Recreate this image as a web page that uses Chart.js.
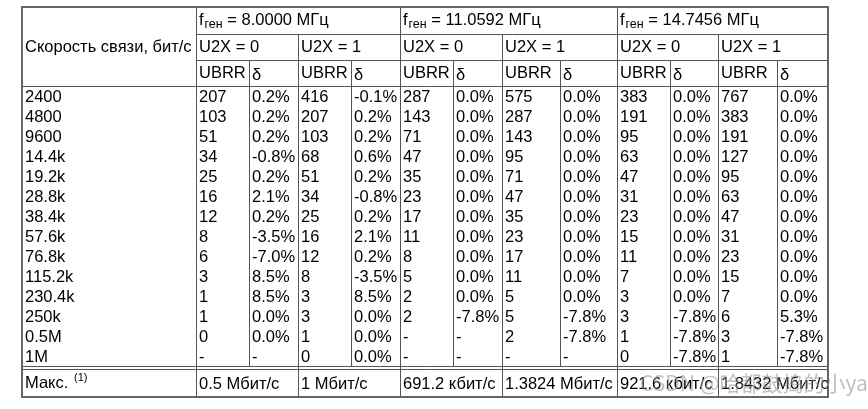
<!DOCTYPE html>
<html>
<head>
<meta charset="utf-8">
<script src="https://cdn.jsdelivr.net/npm/chart.js@4"></script>
<style>
  html, body { margin: 0; padding: 0; background: #fff; }
  #wrap { width: 868px; height: 409px; }
</style>
</head>
<body>
<div id="wrap"><canvas id="tbl"></canvas></div>
<script>
// Table data
const rates = ['2400', '4800', '9600', '14.4k', '19.2k', '28.8k', '38.4k', '57.6k', '76.8k', '115.2k', '230.4k', '250k', '0.5M', '1M'];
const freqs = ['8.0000 МГц', '11.0592 МГц', '14.7456 МГц'];
const ubrr8u0 = ['207', '103', '51', '34', '25', '16', '12', '8', '6', '3', '1', '1', '0', '-'];
const err8u0 = ['0.2%', '0.2%', '0.2%', '-0.8%', '0.2%', '2.1%', '0.2%', '-3.5%', '-7.0%', '8.5%', '8.5%', '0.0%', '0.0%', '-'];
const ubrr8u1 = ['416', '207', '103', '68', '51', '34', '25', '16', '12', '8', '3', '3', '1', '0'];
const err8u1 = ['-0.1%', '0.2%', '0.2%', '0.6%', '0.2%', '-0.8%', '0.2%', '2.1%', '0.2%', '-3.5%', '8.5%', '0.0%', '0.0%', '0.0%'];
const ubrr11u0 = ['287', '143', '71', '47', '35', '23', '17', '11', '8', '5', '2', '2', '-', '-'];
const err11u0 = ['0.0%', '0.0%', '0.0%', '0.0%', '0.0%', '0.0%', '0.0%', '0.0%', '0.0%', '0.0%', '0.0%', '-7.8%', '-', '-'];
const ubrr11u1 = ['575', '287', '143', '95', '71', '47', '35', '23', '17', '11', '5', '5', '2', '-'];
const err11u1 = ['0.0%', '0.0%', '0.0%', '0.0%', '0.0%', '0.0%', '0.0%', '0.0%', '0.0%', '0.0%', '0.0%', '-7.8%', '-7.8%', '-'];
const ubrr14u0 = ['383', '191', '95', '63', '47', '31', '23', '15', '11', '7', '3', '3', '1', '0'];
const err14u0 = ['0.0%', '0.0%', '0.0%', '0.0%', '0.0%', '0.0%', '0.0%', '0.0%', '0.0%', '0.0%', '0.0%', '-7.8%', '-7.8%', '-7.8%'];
const ubrr14u1 = ['767', '383', '191', '127', '95', '63', '47', '31', '23', '15', '7', '6', '3', '1'];
const err14u1 = ['0.0%', '0.0%', '0.0%', '0.0%', '0.0%', '0.0%', '0.0%', '0.0%', '0.0%', '0.0%', '0.0%', '5.3%', '-7.8%', '-7.8%'];
const maxRates = ['0.5 Мбит/с', '1 Мбит/с', '691.2 кбит/с', '1.3824 Мбит/с', '921.6 кбит/с', '1.8432 Мбит/с'];

const dataCols = [ubrr8u0, err8u0, ubrr8u1, err8u1, ubrr11u0, err11u0, ubrr11u1, err11u1, ubrr14u0, err14u0, ubrr14u1, err14u1];

// Column edges (pixel units of the x scale)
const colX = [22, 196, 249, 298, 351, 400, 453, 502, 560, 617, 670, 718, 777, 828];
const FONT = '16.5px "Liberation Sans", Arial, sans-serif';

// Plugin that draws the grid and cell text through the chart's scales
const tablePlugin = {
    id: 'tablePlugin',
    afterDraw(chart) {
        const ctx = chart.ctx;
        const xs = chart.scales.x;
        const ys = chart.scales.y;
        const px = v => xs.getPixelForValue(v);
        const py = v => ys.getPixelForValue(v);

        ctx.save();
        ctx.strokeStyle = '#555';
        ctx.lineWidth = 1;
        const line = (x1, y1, x2, y2) => {
            ctx.beginPath();
            ctx.moveTo(Math.round(px(x1)) + 0.5, Math.round(py(y1)) + 0.5);
            ctx.lineTo(Math.round(px(x2)) + 0.5, Math.round(py(y2)) + 0.5);
            ctx.stroke();
        };

        // Header horizontal lines
        line(196, 34, 828, 34);
        line(196, 60, 828, 60);
        line(22, 86, 828, 86);
        line(22, 366, 828, 366);
        line(22, 369, 828, 369);

        // Vertical lines
        line(196, 7, 196, 397);
        [400, 617].forEach(x => line(x, 7, x, 397));
        [298, 502, 718].forEach(x => line(x, 34, x, 397));
        [249, 351, 453, 560, 670, 777].forEach(x => line(x, 60, x, 366));

        // Outer border
        ctx.lineWidth = 2;
        ctx.strokeStyle = '#666';
        ctx.strokeRect(px(22), py(7), px(828) - px(22), py(397) - py(7));

        // Text
        ctx.fillStyle = '#000';
        ctx.textBaseline = 'middle';
        ctx.font = FONT;
        const text = (s, x, y) => ctx.fillText(s, px(x), py(y));

        text('Скорость связи, бит/с', 25, 47);

        // Frequency headers with subscript
        freqs.forEach((f, i) => {
            const x0 = colX[1 + i * 4] + 3;
            ctx.font = FONT;
            text('f', x0, 20);
            const fw = ctx.measureText('f').width;
            ctx.font = '12.5px "Liberation Sans", Arial, sans-serif';
            text('ген', x0 + fw + 1, 25);
            const sw = ctx.measureText('ген').width;
            ctx.font = FONT;
            text(' = ' + f, x0 + fw + 1 + sw, 20);
        });

        // U2X and UBRR/δ headers
        for (let g = 0; g < 6; g++) {
            text('U2X = ' + (g % 2), colX[1 + g * 2] + 3, 47);
            text('UBRR', colX[1 + g * 2] + 3, 73);
            text('δ', colX[2 + g * 2] + 3, 75);
        }

        // Body rows
        rates.forEach((r, i) => {
            const y = 97 + i * 20;
            text(r, 25, y);
            dataCols.forEach((col, c) => text(col[i], colX[1 + c] + 3, y));
        });

        // Max row
        text('Макс.', 25, 383);
        ctx.font = '11px "Liberation Sans", Arial, sans-serif';
        text('(1)', 74, 378);
        ctx.font = FONT;
        maxRates.forEach((m, g) => text(m, colX[1 + g * 2] + 3, 384));

        // Watermark
        ctx.fillStyle = 'rgba(150,150,150,0.6)';
        ctx.font = '21px "Noto Sans CJK SC", sans-serif';
        text('CSDN @哈都鼓捣的小yao', 640, 383);
        ctx.restore();
    }
};

new Chart(document.getElementById('tbl'), {
    type: 'scatter',
    data: { datasets: [{ data: [], pointRadius: 0 }] },
    options: {
        responsive: true,
        maintainAspectRatio: false,
        animation: false,
        layout: { padding: 0 },
        plugins: { legend: { display: false }, tooltip: { enabled: false } },
        scales: {
            x: { type: 'linear', min: 0, max: 868, display: false },
            y: { type: 'linear', min: 0, max: 409, reverse: true, display: false }
        }
    },
    plugins: [tablePlugin]
});
</script>
</body>
</html>
